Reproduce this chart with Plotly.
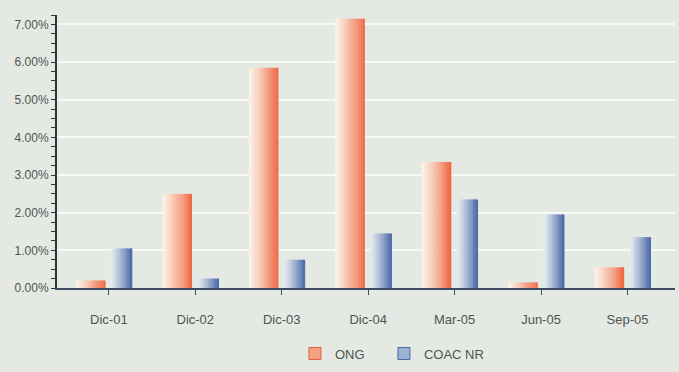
import plotly.graph_objects as go

# Data
categories = ["Dic-01", "Dic-02", "Dic-03", "Dic-04", "Mar-05", "Jun-05", "Sep-05"]
ong = [0.20, 2.50, 5.85, 7.15, 3.35, 0.15, 0.55]
coac_nr = [1.05, 0.25, 0.75, 1.45, 2.35, 1.95, 1.35]
y_ticks = [0, 1, 2, 3, 4, 5, 6, 7]
y_tick_labels = ["0.00%", "1.00%", "2.00%", "3.00%", "4.00%", "5.00%", "6.00%", "7.00%"]

BG = "#e4eae3"
TEXT = "#505351"


def lerp(c1, c2, t):
    return "rgb({},{},{})".format(*[round(a + (b - a) * t) for a, b in zip(c1, c2)])


def gradient_bars(values, left, width, light, dark, n=14):
    """Split each bar into thin vertical slices shading from light to dark."""
    traces = []
    step = width / n
    for i in range(n):
        t = ((i + 0.5) / n) ** 1.2
        traces.append(go.Bar(
            x=categories, y=values,
            width=[step * 1.08] * len(values),
            offset=[left + i * step] * len(values),
            marker=dict(color=lerp(light, dark, t), line=dict(width=0)),
            showlegend=False, hoverinfo="skip",
        ))
    return traces


fig = go.Figure()
for tr in gradient_bars(ong, -0.38, 0.34, (253, 243, 232), (240, 98, 60)):
    fig.add_trace(tr)
for tr in gradient_bars(coac_nr, 0.03, 0.24, (232, 236, 242), (72, 104, 168)):
    fig.add_trace(tr)

# Legend entries (one legend box per series so each can be placed freely)
fig.add_trace(go.Bar(x=[None], y=[None], name="ONG", legend="legend",
                     marker=dict(color="#f6a084", line=dict(color="#e0603a", width=1))))
fig.add_trace(go.Bar(x=[None], y=[None], name="COAC NR", legend="legend2",
                     marker=dict(color="#9cb0d4", line=dict(color="#4a68a6", width=1))))

legend_style = dict(orientation="h", xanchor="left", y=-0.24, yanchor="middle",
                    font=dict(size=13, color=TEXT), bgcolor="rgba(0,0,0,0)")

fig.update_layout(
    width=679, height=372,
    margin=dict(l=57, r=4, t=15, b=80),
    paper_bgcolor=BG, plot_bgcolor=BG,
    barmode="overlay",
    font=dict(family="Liberation Sans, Arial, sans-serif", color=TEXT, size=11),
    showlegend=True,
    legend=dict(x=0.385, **legend_style),
    legend2=dict(x=0.529, **legend_style),
    xaxis=dict(
        type="category", categoryorder="array", categoryarray=categories,
        range=[-0.6, 6.55],
        showgrid=False, zeroline=False,
        showline=True, linecolor="#3d4a66", linewidth=1.5,
        ticks="outside", ticklen=5, tickcolor="#3d4a66",
        tickfont=dict(size=13, color=TEXT),
        ticklabelstandoff=14,
    ),
    yaxis=dict(
        range=[0, 7.25],
        tickmode="array", tickvals=y_ticks, ticktext=y_tick_labels,
        showgrid=True, gridcolor="#f7f9f5", gridwidth=1.5,
        zeroline=False,
        showline=True, linecolor="#333333", linewidth=2,
        ticks="outside", ticklen=4, tickcolor="#333333",
        tickfont=dict(family="Liberation Sans Narrow, Liberation Sans, sans-serif",
                      size=12, color=TEXT),
        minor=dict(dtick=0.25, ticks="outside", ticklen=4, tickcolor="#333333", showgrid=False),
    ),
)

fig.write_html("out.html")
